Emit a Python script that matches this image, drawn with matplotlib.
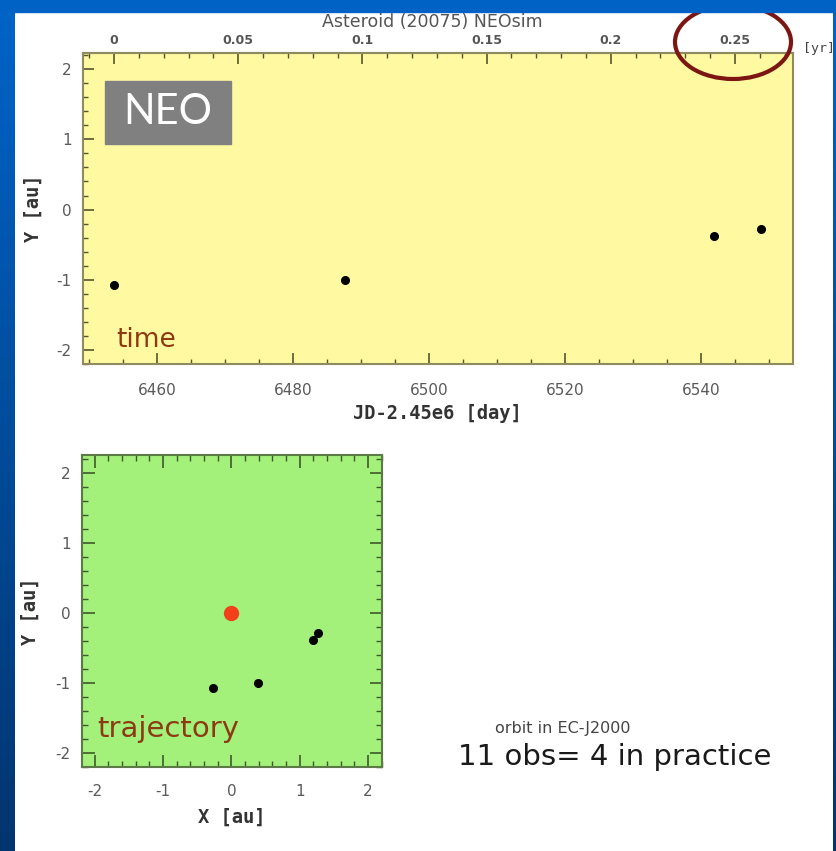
import numpy as np
import matplotlib
matplotlib.use('Agg')
import matplotlib.pyplot as plt
from matplotlib.patches import Rectangle, Ellipse
from matplotlib.ticker import MultipleLocator
from matplotlib.colors import LinearSegmentedColormap

plt.rcParams['axes.unicode_minus'] = False

jd_day = [6453.7, 6487.6, 6542.0, 6548.8]     # JD - 2.45e6
obs_x = [-0.27, 0.39, 1.19, 1.27]             # X [au]
obs_y = [-1.07, -1.00, -0.38, -0.28]          # Y [au]
sun_x = [0.0]
sun_y = [0.0]

day_ticks = [6460, 6480, 6500, 6520, 6540]
yr_ticks = [0, 0.05, 0.1, 0.15, 0.2, 0.25]
yr_labels = ['0', '0.05', '0.1', '0.15', '0.2', '0.25']
au_ticks = [-2, -1, 0, 1, 2]

W, H = 836, 851


def px_box(l, t, r, b):
    # pixel box (from top-left) -> figure fraction rect
    return [l / W, 1 - b / H, (r - l) / W, (b - t) / H]


def day_to_yr(d):
    return (np.asarray(d) - jd_day[0]) / 365.25


def yr_to_day(y):
    return np.asarray(y) * 365.25 + jd_day[0]


fig = plt.figure(figsize=(W / 100, H / 100), dpi=100)
fig.patch.set_facecolor('white')

tick_col = '#55552a'
lab_col = '#5a5a5a'
mono = 'DejaVu Sans Mono'

# ---------------- top panel: Y vs time ----------------
ax1 = fig.add_axes(px_box(82.7, 53, 792.7, 364))
ax1.set_facecolor('#fffaa2')
ax1.plot(jd_day, obs_y, 'o', color='black', markersize=5.5, zorder=4)
ax1.set_xlim(6449.1, 6553.5)
ax1.set_ylim(-2.2, 2.23)
ax1.set_xticks(day_ticks)
ax1.xaxis.set_minor_locator(MultipleLocator(5))
ax1.set_yticks(au_ticks)
ax1.yaxis.set_minor_locator(MultipleLocator(0.2))
ax1.tick_params(which='both', direction='in', color=tick_col, labelcolor=lab_col)
ax1.tick_params(which='major', length=8, width=1.2)
ax1.tick_params(which='minor', length=3.5, width=1.0)
ax1.tick_params(axis='x', pad=14, labelsize=11)
ax1.tick_params(axis='y', pad=8, labelsize=11)
for s in ax1.spines.values():
    s.set_color('#8f8b5e')
    s.set_linewidth(1.5)
ax1.set_xlabel('JD-2.45e6 [day]', family=mono, fontweight='bold', fontsize=13.5,
               color='#333333', va='center')
ax1.xaxis.set_label_coords(0.5, -0.158)
ax1.set_ylabel('Y [au]', family=mono, fontweight='bold', fontsize=13.5,
               color='#333333', va='center')
ax1.yaxis.set_label_coords(-0.07, 0.5)

sec = ax1.secondary_xaxis('top', functions=(day_to_yr, yr_to_day))
sec.set_xticks(yr_ticks)
sec.set_xticklabels(yr_labels, fontweight='bold', fontsize=9, color='#555555')
sec.xaxis.set_minor_locator(MultipleLocator(0.01))
sec.tick_params(which='both', direction='in', color=tick_col, pad=4)
sec.tick_params(which='major', length=8, width=1.2)
sec.tick_params(which='minor', length=3.5, width=1.0)
sec.spines['top'].set_color('#8f8b5e')
sec.spines['top'].set_linewidth(1.5)

ax1.text(0.492, 1.0997, 'Asteroid (20075) NEOsim', transform=ax1.transAxes,
         ha='center', va='center', fontsize=12.5, color='#555555')
ax1.text(1.0145, 1.016, '[yr]', transform=ax1.transAxes, ha='left', va='center',
         fontsize=9.5, color='#444444', family=mono)

# NEO label box
ax1.add_patch(Rectangle((0.0314, 0.7074), 0.1775, 0.2026, transform=ax1.transAxes,
                        color='#808080', zorder=3))
ax1.text(0.120, 0.809, 'NEO', transform=ax1.transAxes, ha='center', va='center',
         fontsize=30, color='white', family='Lato', zorder=4)
ax1.text(0.0479, 0.0556, 'time', transform=ax1.transAxes, ha='left', va='baseline',
         fontsize=19, color='#8b3a12')

# ---------------- bottom panel: trajectory ----------------
ax2 = fig.add_axes(px_box(81.7, 455, 381.7, 767))
ax2.set_facecolor('#a3f07b')
ax2.plot(sun_x, sun_y, 'o', color='#f2401a', markersize=10, zorder=4)
ax2.plot(obs_x, obs_y, 'o', color='black', markersize=5.5, zorder=4)
ax2.set_xlim(-2.19, 2.2)
ax2.set_ylim(-2.2, 2.26)
ax2.set_xticks(au_ticks)
ax2.set_yticks(au_ticks)
ax2.xaxis.set_minor_locator(MultipleLocator(0.2))
ax2.yaxis.set_minor_locator(MultipleLocator(0.2))
ax2.tick_params(which='both', direction='in', top=True, right=True,
                color='#3f5a2a', labelcolor=lab_col)
ax2.tick_params(which='major', length=9, width=1.2)
ax2.tick_params(which='minor', length=4, width=1.0)
ax2.tick_params(axis='x', pad=12, labelsize=11)
ax2.tick_params(axis='y', pad=8, labelsize=11)
for s in ax2.spines.values():
    s.set_color('#5b7a45')
    s.set_linewidth(1.5)
ax2.set_xlabel('X [au]', family=mono, fontweight='bold', fontsize=13.5,
               color='#333333', va='center')
ax2.xaxis.set_label_coords(0.5, -0.16)
ax2.set_ylabel('Y [au]', family=mono, fontweight='bold', fontsize=13.5,
               color='#333333', va='center')
ax2.yaxis.set_label_coords(-0.171, 0.5)
ax2.text(0.051, 0.097, 'trajectory', transform=ax2.transAxes, ha='left',
         va='baseline', fontsize=21, color='#8b3a12')

# free text on the slide
fig.text(495 / W, 1 - 733 / H, 'orbit in EC-J2000', ha='left', va='baseline',
         fontsize=11.5, color='#444444')
fig.text(458 / W, 1 - 765 / H, '11 obs= 4 in practice', ha='left', va='baseline',
         fontsize=21, color='#1a1a1a')

# red ellipse around the 0.25 yr label
fig.add_artist(Ellipse((733 / W, 1 - 42 / H), 116 / W, 74 / H, transform=fig.transFigure,
                       fill=False, ec='#7b1612', lw=3, zorder=5))

# slide frame: blue strips
cmap = LinearSegmentedColormap.from_list('slide', ['#0064c8', '#00356f'])
grad = np.linspace(0, 1, 256).reshape(-1, 1)
for rect in ([0, 0, 15 / W, 1], [833 / W, 0, 3 / W, 1]):
    strip = fig.add_axes(rect)
    strip.imshow(grad, aspect='auto', cmap=cmap)
    strip.axis('off')
    strip.set_zorder(10)
fig.add_artist(Rectangle((0, 1 - 12 / H), 1, 12 / H, transform=fig.transFigure,
                         color='#0062c4', zorder=11))

fig.savefig('out.png', dpi=100)
